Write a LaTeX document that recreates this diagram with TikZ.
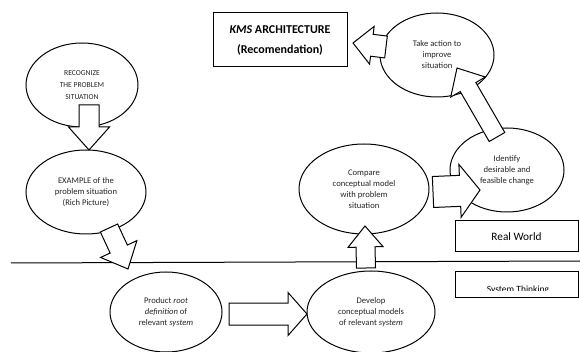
\documentclass[tikz,border=0pt]{standalone}
\usepackage{fontspec}
\setmainfont{Carlito}
\usetikzlibrary{shapes.geometric,calc}
\tikzset{
  ell/.style={draw, line width=1pt, ellipse, inner sep=0pt, align=center, text=black!85, font=\fontsize{8.6}{11}\selectfont},
  barrow/.style={draw, line width=1pt, fill=white, line join=miter},
  tbox/.style={draw, line width=1pt},
}
\newcommand{\blockarrow}[5]{%
  \path let \p1=(#1), \p2=(#2), \n1={atan2(\y2-\y1,\x2-\x1)}, \n2={veclen(\x2-\x1,\y2-\y1)} in
    \pgfextra{\xdef\baang{\n1}\xdef\balen{\n2}};
  \draw[barrow, shift={(#1)}, rotate=\baang]
    (0pt,-#3pt) -- ({\balen-#5pt},-#3pt) -- ({\balen-#5pt},-#4pt) -- (\balen,0pt)
    -- ({\balen-#5pt},#4pt) -- ({\balen-#5pt},#3pt) -- (0pt,#3pt) -- cycle;
}
\begin{document}
\begin{tikzpicture}[x=1pt,y=-1pt]
\useasboundingbox (0,0) rectangle (580,352);
\fill[white] (0,0) rectangle (580,352);

% ellipses
\node[ell, minimum width=112pt, minimum height=84pt, font=\fontsize{7.6}{12}\selectfont] (rec) at (82,85) {RECOGNIZE\\THE PROBLEM\\SITUATION};
\node[ell, minimum width=120pt, minimum height=84pt] (ex) at (86,192) {EXAMPLE of the\\problem situation\\(Rich Picture)};
\node[ell, minimum width=112pt, minimum height=80pt] (prod) at (166,312) {Product \textit{root}\\\textit{definition} of\\relevant \textit{system}};
\node[ell, minimum width=128pt, minimum height=82pt] (dev) at (371,312) {Develop\\conceptual models\\of relevant \textit{system}};
\node[ell, minimum width=130pt, minimum height=90pt] (cmp) at (364,189) {Compare\\conceptual model\\with problem\\situation};
\node[ell, minimum width=114pt, minimum height=84pt] (idf) at (507,170) {Identify\\desirable and\\feasible change};
\node[ell, minimum width=114pt, minimum height=84pt] (act) at (437,55) {Take action to\\improve\\situation};

% boxes
\node[tbox, minimum width=134pt, minimum height=54pt, inner sep=0pt, align=center, font=\fontsize{12}{20}\selectfont\bfseries] (kms) at (280,40) {\textit{KMS} ARCHITECTURE\\(Recomendation)};
\node[tbox, minimum width=123pt, minimum height=31pt, inner sep=0pt, font=\fontsize{11.3}{13}\selectfont] (rw) at (516.5,236.5) {Real World};
\draw[tbox] (455,272) rectangle (578,297);
\begin{scope}
\clip (455,272) rectangle (578,290.5);
\node[anchor=base, font=\fontsize{9.5}{11}\selectfont, inner sep=0pt] (st) at (518,292) {System Thinking};
\end{scope}

% divider
\coordinate (dl) at (11,263);
\coordinate (dr) at (580,261);
\draw[line width=1pt] (dl) -- (dr);

% block arrows
\coordinate (a1s) at (89,105);  \coordinate (a1e) at (89,150);
\coordinate (a2s) at (109,228); \coordinate (a2e) at (128,269);
\coordinate (a3s) at (229,314); \coordinate (a3e) at (307,314);
\coordinate (a4s) at (366,268); \coordinate (a4e) at (365,226);
\coordinate (a5s) at (433,192); \coordinate (a5e) at (480,190);
\coordinate (a6s) at (497,137); \coordinate (a6e) at (457,68);
\coordinate (a7s) at (386,47);  \coordinate (a7e) at (353,43);
\blockarrow{a1s}{a1e}{10}{20.5}{23}
\blockarrow{a2s}{a2e}{9.5}{20}{22}
\blockarrow{a3s}{a3e}{11}{21.5}{19}
\blockarrow{a4s}{a4e}{9.5}{17.5}{21}
\blockarrow{a5s}{a5e}{15.5}{26.5}{20}
\blockarrow{a6s}{a6e}{9}{20}{22}
\blockarrow{a7s}{a7e}{11}{19}{19}
\end{tikzpicture}
\end{document}
